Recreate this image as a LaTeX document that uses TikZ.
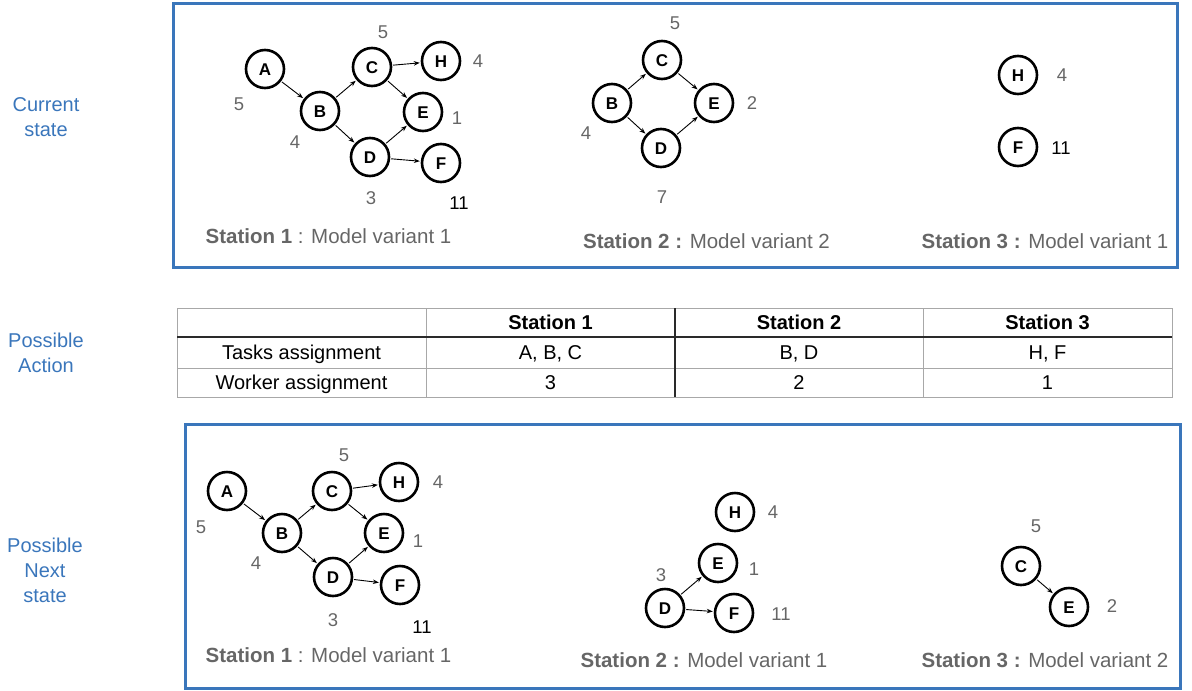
\documentclass[tikz,border=0pt]{standalone}
\usepackage{fontspec}
\setmainfont{Liberation Sans}
\usetikzlibrary{arrows.meta}
\definecolor{myblue}{HTML}{3A76BB}
\definecolor{mygray}{HTML}{666666}
\definecolor{tblgray}{HTML}{A8A8A8}
\definecolor{tbldark}{HTML}{2A2A2A}
\begin{document}
\begin{tikzpicture}[x=1pt,y=-1pt,
 task/.style={circle,draw,line width=2.6pt,minimum size=38pt,inner sep=0pt,
   font=\fontsize{17}{18}\selectfont\bfseries,text height=12.2pt,text depth=0pt},
 edge/.style={line width=0.9pt,-{Stealth[length=6pt,width=4.5pt]},shorten <=1pt,shorten >=1pt},
 num/.style={text=mygray,font=\fontsize{18.5}{20}\selectfont,text height=13.2pt,text depth=0pt,inner sep=0pt},
 numk/.style={num,text=black},
 stlabel/.style={text=mygray,font=\fontsize{20.5}{22}\selectfont,text height=14.7pt,text depth=0pt,inner sep=0pt},
 side/.style={text=myblue,font=\fontsize{20}{25}\selectfont,align=center,inner sep=0pt},
 panel/.style={draw=myblue,line width=3pt},
 cell/.style={font=\fontsize{20}{22}\selectfont,text height=14.3pt,text depth=0pt,inner sep=0pt},
 hcell/.style={cell,font=\fontsize{20}{22}\selectfont\bfseries}
]
\useasboundingbox (0,0) rectangle (1192,691);

% side labels
\node[side] (lcur) at (46,117.5) {Current\\state};
\node[side] (lact) at (46,353) {Possible\\Action};
\node[side] (lnext) at (45,570) {Possible\\Next\\state};

% panels
\draw[panel] (173,3) rectangle (1177,267);
\draw[panel] (185,424) rectangle (1180,688);

% ---------- current state, station 1
\node[task] (a1) at (265,69) {A};
\node[task] (b1) at (320,111) {B};
\node[task] (c1) at (372,67) {C};
\node[task] (h1) at (441,61) {H};
\node[task] (e1) at (423,112) {E};
\node[task] (d1) at (370,157) {D};
\node[task] (f1) at (441,163) {F};
\draw[edge] (a1) -- (b1);
\draw[edge] (b1) -- (c1);
\draw[edge] (b1) -- (d1);
\draw[edge] (c1) -- (h1);
\draw[edge] (c1) -- (e1);
\draw[edge] (d1) -- (e1);
\draw[edge] (d1) -- (f1);
\node[num] (na1) at (239,104) {5};
\node[num] (nb1) at (295,142) {4};
\node[num] (nc1) at (383,32) {5};
\node[num] (nh1) at (478,61) {4};
\node[num] (ne1) at (457,118) {1};
\node[num] (nd1) at (371,198) {3};
\node[numk] (nf1) at (459,203) {11};
\node[stlabel] (s1) at (328.5,236) {\textbf{Station 1} : Model variant 1};

% ---------- current state, station 2
\node[task] (b2) at (612,103) {B};
\node[task] (c2) at (662,60) {C};
\node[task] (e2) at (714,103) {E};
\node[task] (d2) at (661,148) {D};
\draw[edge] (b2) -- (c2);
\draw[edge] (b2) -- (d2);
\draw[edge] (c2) -- (e2);
\draw[edge] (d2) -- (e2);
\node[num] (nc2) at (675,23) {5};
\node[num] (ne2) at (752,103) {2};
\node[num] (nb2) at (586,133) {4};
\node[num] (nd2) at (662,197) {7};
\node[stlabel] (s2) at (706.5,241) {\textbf{Station 2 :} Model variant 2};

% ---------- current state, station 3
\node[task] (h3) at (1018,75) {H};
\node[task] (f3) at (1018,147) {F};
\node[num] (nh3) at (1062,75) {4};
\node[numk] (nf3) at (1061,148) {11};
\node[stlabel] (s3) at (1045,241) {\textbf{Station 3 :} Model variant 1};

% ---------- table
\node[hcell] (th1) at (550.5,322.5) {Station 1};
\node[hcell] (th2) at (799,322.5) {Station 2};
\node[hcell] (th3) at (1047.5,322.5) {Station 3};
\node[cell] (tr1) at (301.5,352.5) {Tasks assignment};
\node[cell] (tr2) at (301.5,382.5) {Worker assignment};
\node[cell] (t11) at (550.5,352.5) {A, B, C};
\node[cell] (t12) at (799,352.5) {B, D};
\node[cell] (t13) at (1047.5,352.5) {H, F};
\node[cell] (t21) at (550.5,382.5) {3};
\node[cell] (t22) at (799,382.5) {2};
\node[cell] (t23) at (1047.5,382.5) {1};
\draw[tblgray,line width=1pt] (177,308) rectangle (1172,397);
\draw[tblgray,line width=1pt] (177,368) -- (1172,368);
\draw[tblgray,line width=1pt] (426,308) -- (426,397);
\draw[tblgray,line width=1pt] (923,308) -- (923,397);
\draw[tbldark,line width=1.3pt] (675,308) -- (675,397);
\draw[tbldark,line width=1.5pt] (177,337) -- (1172,337);

% ---------- next state, station 1
\node[task] (a4) at (227,491) {A};
\node[task] (b4) at (282,533) {B};
\node[task] (c4) at (332,491) {C};
\node[task] (h4) at (399,482) {H};
\node[task] (e4) at (384,533) {E};
\node[task] (d4) at (333,577) {D};
\node[task] (f4) at (400,585) {F};
\draw[edge] (a4) -- (b4);
\draw[edge] (b4) -- (c4);
\draw[edge] (b4) -- (d4);
\draw[edge] (c4) -- (h4);
\draw[edge] (c4) -- (e4);
\draw[edge] (d4) -- (e4);
\draw[edge] (d4) -- (f4);
\node[num] (na4) at (201,527) {5};
\node[num] (nb4) at (256,563) {4};
\node[num] (nc4) at (344,455) {5};
\node[num] (nh4) at (438,482) {4};
\node[num] (ne4) at (418,541) {1};
\node[num] (nd4) at (333,620) {3};
\node[numk] (nf4) at (422,627) {11};
\node[stlabel] (s4) at (328.5,655) {\textbf{Station 1} : Model variant 1};

% ---------- next state, station 2
\node[task] (h5) at (735,512) {H};
\node[task] (e5) at (718,563) {E};
\node[task] (d5) at (665,608) {D};
\node[task] (f5) at (734,613) {F};
\draw[edge] (d5) -- (e5);
\draw[edge] (d5) -- (f5);
\node[num] (nh5) at (773,512) {4};
\node[num] (ne5) at (754,569) {1};
\node[num] (nd5) at (661,575) {3};
\node[num] (nf5) at (781,614) {11};
\node[stlabel] (s5) at (704,660) {\textbf{Station 2 :} Model variant 1};

% ---------- next state, station 3
\node[task] (c6) at (1021,566) {C};
\node[task] (e6) at (1069,607) {E};
\draw[edge] (c6) -- (e6);
\node[num] (nc6) at (1036,526) {5};
\node[num] (ne6) at (1112,606) {2};
\node[stlabel] (s6) at (1045,660) {\textbf{Station 3 :} Model variant 2};
\end{tikzpicture}
\end{document}
